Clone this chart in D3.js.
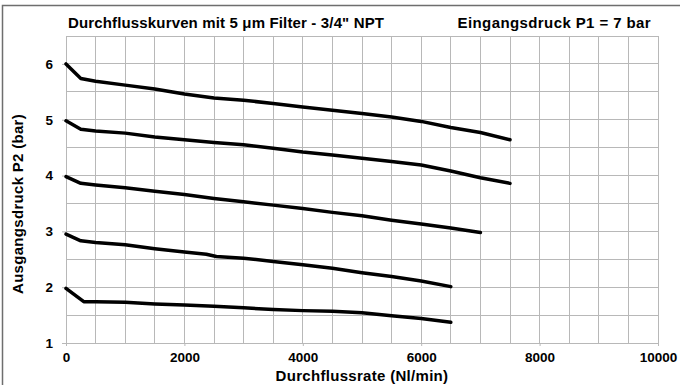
<!DOCTYPE html>
<html><head><meta charset="utf-8">
<script src="https://cdn.jsdelivr.net/npm/d3@7/dist/d3.min.js"></script>
<style>
body{margin:0;background:#fff;}
text{font-family:"Liberation Sans",Arial,Helvetica,sans-serif;font-weight:bold;fill:#000;}
</style></head>
<body><svg id="c" width="680" height="385"></svg>
<script>
const titleText = "Durchflusskurven mit 5 \u03bcm Filter - 3/4\" NPT";
const subtitleText = "Eingangsdruck P1 = 7 bar";
const xTitle = "Durchflussrate (Nl/min)";
const yTitle = "Ausgangsdruck P2 (bar)";
const xTicks = [0, 2000, 4000, 6000, 8000, 10000];
const yTicks = [1, 2, 3, 4, 5, 6];

const flow6 = [0, 250, 500, 1000, 1500, 2000, 2500, 3000, 3500, 4000, 4500, 5000, 5500, 6000, 6500, 7000, 7500];
const p6 =    [6.0, 5.74, 5.69, 5.62, 5.55, 5.46, 5.39, 5.35, 5.29, 5.23, 5.17, 5.11, 5.05, 4.97, 4.86, 4.77, 4.64];
const flow5 = [0, 250, 500, 1000, 1500, 2000, 2500, 3000, 3500, 4000, 4500, 5000, 5500, 6000, 6500, 7000, 7500];
const p5 =    [4.98, 4.83, 4.80, 4.76, 4.69, 4.64, 4.59, 4.55, 4.49, 4.42, 4.37, 4.31, 4.25, 4.19, 4.08, 3.96, 3.86];
const flow4 = [0, 250, 500, 1000, 1500, 2000, 2500, 3000, 3500, 4000, 4500, 5000, 5500, 6000, 6500, 7000];
const p4 =    [3.98, 3.86, 3.83, 3.78, 3.72, 3.66, 3.59, 3.53, 3.47, 3.41, 3.34, 3.28, 3.20, 3.13, 3.06, 2.98];
const flow3 = [0, 250, 500, 1000, 1500, 2000, 2370, 2540, 3000, 3500, 4000, 4500, 5000, 5500, 6000, 6500];
const p3 =    [2.95, 2.83, 2.80, 2.76, 2.69, 2.63, 2.59, 2.55, 2.52, 2.46, 2.40, 2.34, 2.26, 2.19, 2.11, 2.01];
const flow2 = [0, 300, 500, 1000, 1500, 2000, 2500, 3000, 3500, 4000, 4500, 5000, 5500, 6000, 6500];
const p2 =    [1.98, 1.74, 1.74, 1.73, 1.70, 1.68, 1.66, 1.63, 1.60, 1.58, 1.57, 1.54, 1.49, 1.44, 1.37];

const series = [[flow6,p6],[flow5,p5],[flow4,p4],[flow3,p3],[flow2,p2]];

const svg = d3.select("#c");
const L = 66, R = 658, T = 36, B = 343;
const x = d3.scaleLinear().domain([0, 10000]).range([L, R]);
const y = d3.scaleLinear().domain([1, 6.5]).range([B, T]);

// frame
svg.append("path").attr("d", `M2.5,${385} V5.5 H680`).attr("fill","none").attr("stroke","#6e6e6e").attr("stroke-width",1.5);

// grid
const gx = d3.range(0, 10001, 500), gy = d3.range(1, 6.51, 0.5);
svg.append("g").selectAll("line").data(gx).join("line")
  .attr("x1", d=>x(d)).attr("x2", d=>x(d)).attr("y1", T).attr("y2", B)
  .attr("stroke","#b8b8b8").attr("stroke-width",1).attr("shape-rendering","crispEdges");
svg.append("g").selectAll("line").data(gy).join("line")
  .attr("x1", L).attr("x2", R).attr("y1", d=>y(d)).attr("y2", d=>y(d))
  .attr("stroke","#b8b8b8").attr("stroke-width",1).attr("shape-rendering","crispEdges");

// axes
const ya = svg.append("g").attr("transform",`translate(${L},0)`)
  .call(d3.axisLeft(y).tickValues(yTicks).tickSize(4).tickPadding(9).tickFormat(d3.format("d")));
ya.select(".domain").remove();
ya.selectAll("line").attr("stroke","#b8b8b8");
ya.selectAll("text").attr("font-size","13.5px").attr("font-family",null).attr("font-weight",null);

const xa = svg.append("g").attr("transform",`translate(0,${B})`)
  .call(d3.axisBottom(x).tickValues(xTicks).tickSize(3).tickPadding(6).tickFormat(d3.format("d")));
xa.select(".domain").remove();
xa.selectAll("line").attr("stroke","#b8b8b8");
xa.selectAll("text").attr("font-size","13.5px").attr("font-family",null).attr("font-weight",null);

// curves
const line = d3.line().x(d=>x(d[0])).y(d=>y(d[1]));
svg.append("g").selectAll("path").data(series).join("path")
  .attr("d", s => line(s[0].map((f,i)=>[f, s[1][i]])))
  .attr("fill","none").attr("stroke","#000").attr("stroke-width",3.5)
  .attr("stroke-linejoin","round").attr("stroke-linecap","round");

// texts
svg.append("text").attr("x",68).attr("y",28).attr("font-size","15px").attr("letter-spacing","0.15px").text(titleText);
svg.append("text").attr("x",651).attr("y",28).attr("text-anchor","end").attr("font-size","15px").attr("letter-spacing","0.4px").text(subtitleText);
svg.append("text").attr("x",(L+R)/2).attr("y",381).attr("text-anchor","middle").attr("font-size","15px").attr("letter-spacing","0.3px").text(xTitle);
svg.append("text").attr("transform",`translate(23,204) rotate(-90)`).attr("text-anchor","middle").attr("font-size","15px").attr("letter-spacing","0.3px").text(yTitle);
</script></body></html>
